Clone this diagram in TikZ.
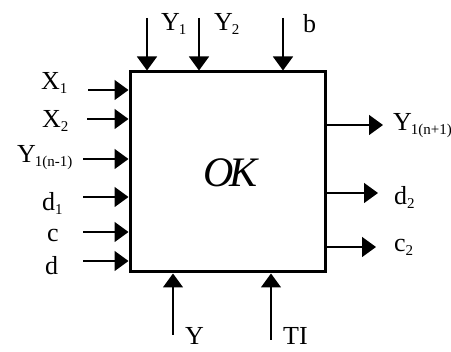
\documentclass[tikz,border=0pt]{standalone}
\usepackage{fontspec}
\setmainfont{Liberation Serif}
\usetikzlibrary{arrows.meta}
\newcommand\lsub[1]{\raisebox{-4pt}{\fontsize{15}{15}\selectfont #1}}
\tikzset{
  sig/.style={line width=1.5pt,-{Triangle[length=14pt,width=20pt]}},
  lbl/.style={inner sep=0pt,anchor=base west,font=\fontsize{26}{30}\selectfont},
  blk/.style={draw,line width=3pt,inner sep=0pt,minimum width=195pt,minimum height=200pt}
}
\begin{document}
\begin{tikzpicture}[x=1pt,y=-1pt]
\useasboundingbox (0,0) rectangle (451,352);
\node[blk] (box) at (227.5,172) {};
\node[inner sep=0pt,anchor=base west,font=\fontsize{42}{44}\selectfont\itshape] (ok) at (203,187) {O\kern-4pt K};
% left inputs
\coordinate (ix1) at (88,90);
\coordinate (ix2) at (87,119);
\coordinate (iy) at (83,159);
\coordinate (id1) at (83,197);
\coordinate (ic) at (83,232);
\coordinate (id) at (83,261);
\foreach \c in {ix1,ix2,iy,id1,ic,id} \draw[sig] (\c) -- (\c -| box.west);
\node[lbl] (lx1) at (41,90) {X\lsub{1}};
\node[lbl] (lx2) at (42,128) {X\lsub{2}};
\node[lbl] (ly) at (17,163) {Y\kern-1pt\lsub{1(n-1)}};
\node[lbl] (ld1) at (42,211) {d\lsub{1}};
\node[lbl] (lc) at (47,242) {c};
\node[lbl] (ld) at (45,275) {d};
% top inputs
\coordinate (ty1) at (147,18);
\coordinate (ty2) at (199,18);
\coordinate (tb) at (283,18);
\foreach \c in {ty1,ty2,tb} \draw[sig] (\c) -- (\c |- box.north);
\node[lbl] (lty1) at (161,31) {Y\kern-1pt\lsub{1}};
\node[lbl] (lty2) at (214,31) {Y\kern-1pt\lsub{2}};
\node[lbl] (ltb) at (303,33) {b};
% bottom inputs
\coordinate (by) at (173,335);
\coordinate (bt) at (271,340);
\foreach \c in {by,bt} \draw[sig] (\c) -- (\c |- box.south);
\node[lbl] (lby) at (185,345) {Y};
\node[lbl] (lbt) at (283,345) {TI};
% right outputs
\coordinate (oy) at (383,125);
\coordinate (od2) at (378,193);
\coordinate (oc2) at (376,247);
\foreach \c in {oy,od2,oc2} \draw[sig] (\c -| box.east) -- (\c);
\node[lbl] (loy) at (393,131) {Y\kern-1pt\lsub{1(n+1)}};
\node[lbl] (lod2) at (394,205) {d\lsub{2}};
\node[lbl] (loc2) at (394,252) {c\lsub{2}};
\end{tikzpicture}
\end{document}
